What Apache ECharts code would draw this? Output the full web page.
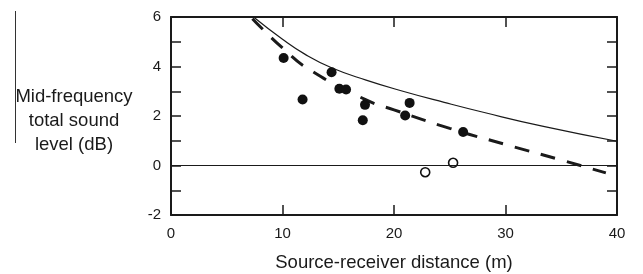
<!DOCTYPE html>
<html>
<head>
<meta charset="utf-8">
<script src="https://cdn.jsdelivr.net/npm/echarts@6/dist/echarts.min.js"></script>
<style>
  html, body { margin: 0; padding: 0; background: #fff; }
  #chart { width: 643px; height: 274px; }
</style>
</head>
<body>
<div id="chart"></div>
<script>
// measured points, [distance (m), level (dB)]
const filledPoints = [
  [10.1, 4.34], [11.8, 2.67], [14.4, 3.77], [15.1, 3.10], [15.7, 3.07],
  [17.4, 2.45], [17.2, 1.83], [21.0, 2.02], [21.4, 2.53], [26.2, 1.35]
]
const openPoints = [[22.8, -0.27], [25.3, 0.11]]

// upper (solid) curve
const solidCurve = [
  [7.4, 6.0], [10, 5.1], [12, 4.5], [14.4, 3.95], [17.5, 3.45],
  [20.8, 3.0], [24.5, 2.55], [28, 2.15], [33.4, 1.58], [40, 0.98]
]
// regression (dashed) line
const dashedCurve = [
  [7.3, 5.93], [10, 4.75], [12.5, 3.85], [17.5, 2.65], [20, 2.25],
  [25, 1.5], [30, 0.85], [35, 0.22], [39, -0.3]
]

const xTicks = [0, 10, 20, 30, 40]
const yTickLabels = [-2, 0, 2, 4, 6]

const font = 'Liberation Sans, Arial, sans-serif'
const ink = '#1a1a1a'

const chart = echarts.init(document.getElementById('chart'))

const tickStyle = { show: true, inside: true, length: 10, lineStyle: { color: ink, width: 1.5 } }
const frameLine = { show: true, onZero: false, lineStyle: { color: ink, width: 2 } }

chart.setOption({
  animation: false,
  grid: { left: 171, right: 26, top: 17, bottom: 59, outerBoundsMode: 'none' },
  xAxis: [
    {
      type: 'value',
      min: xTicks[0],
      max: xTicks[xTicks.length - 1],
      interval: 10,
      position: 'bottom',
      axisLine: frameLine,
      axisTick: tickStyle,
      splitLine: { show: false },
      axisLabel: { color: ink, fontSize: 15, fontFamily: font, margin: 11 },
      name: 'Source-receiver distance (m)',
      nameLocation: 'middle',
      nameGap: 38,
      nameTextStyle: { color: ink, fontSize: 18.5, fontFamily: font }
    },
    {
      type: 'value',
      min: xTicks[0],
      max: xTicks[xTicks.length - 1],
      interval: 10,
      position: 'top',
      axisLine: frameLine,
      axisTick: tickStyle,
      splitLine: { show: false },
      axisLabel: { show: false }
    }
  ],
  yAxis: [
    {
      type: 'value',
      min: -2,
      max: 6,
      interval: 1,
      position: 'left',
      axisLine: frameLine,
      axisTick: tickStyle,
      splitLine: { show: false },
      axisLabel: {
        color: ink, fontSize: 15, fontFamily: font, margin: 10,
        formatter: v => (yTickLabels.includes(v) ? String(v) : '')
      }
    },
    {
      type: 'value',
      min: -2,
      max: 6,
      interval: 1,
      position: 'right',
      axisLine: frameLine,
      axisTick: tickStyle,
      splitLine: { show: false },
      axisLabel: { show: false }
    }
  ],
  graphic: [
    {
      type: 'text',
      x: 74,
      y: 121,
      style: {
        text: 'Mid-frequency\ntotal sound\nlevel (dB)',
        align: 'center',
        verticalAlign: 'middle',
        fill: ink,
        font: '18.5px ' + font,
        lineHeight: 24
      }
    },
    {
      type: 'line',
      shape: { x1: 15.5, y1: 11, x2: 15.5, y2: 143 },
      style: { stroke: '#333', lineWidth: 1 }
    }
  ],
  series: [
    {
      type: 'line',
      data: solidCurve,
      smooth: true,
      symbol: 'none',
      lineStyle: { color: ink, width: 1.2 },
      markLine: {
        silent: true,
        symbol: 'none',
        label: { show: false },
        lineStyle: { color: ink, width: 1, type: 'solid' },
        data: [{ yAxis: 0 }]
      },
      z: 3
    },
    {
      type: 'line',
      data: dashedCurve,
      smooth: true,
      symbol: 'none',
      lineStyle: { color: ink, width: 3, type: [15, 12] },
      z: 3
    },
    {
      type: 'scatter',
      data: filledPoints,
      symbol: 'circle',
      symbolSize: 10,
      itemStyle: { color: '#111', opacity: 1 },
      z: 4
    },
    {
      type: 'scatter',
      data: openPoints,
      symbol: 'circle',
      symbolSize: 9,
      itemStyle: { color: '#fff', borderColor: '#111', borderWidth: 1.6, opacity: 1 },
      z: 4
    }
  ]
})
</script>
</body>
</html>
